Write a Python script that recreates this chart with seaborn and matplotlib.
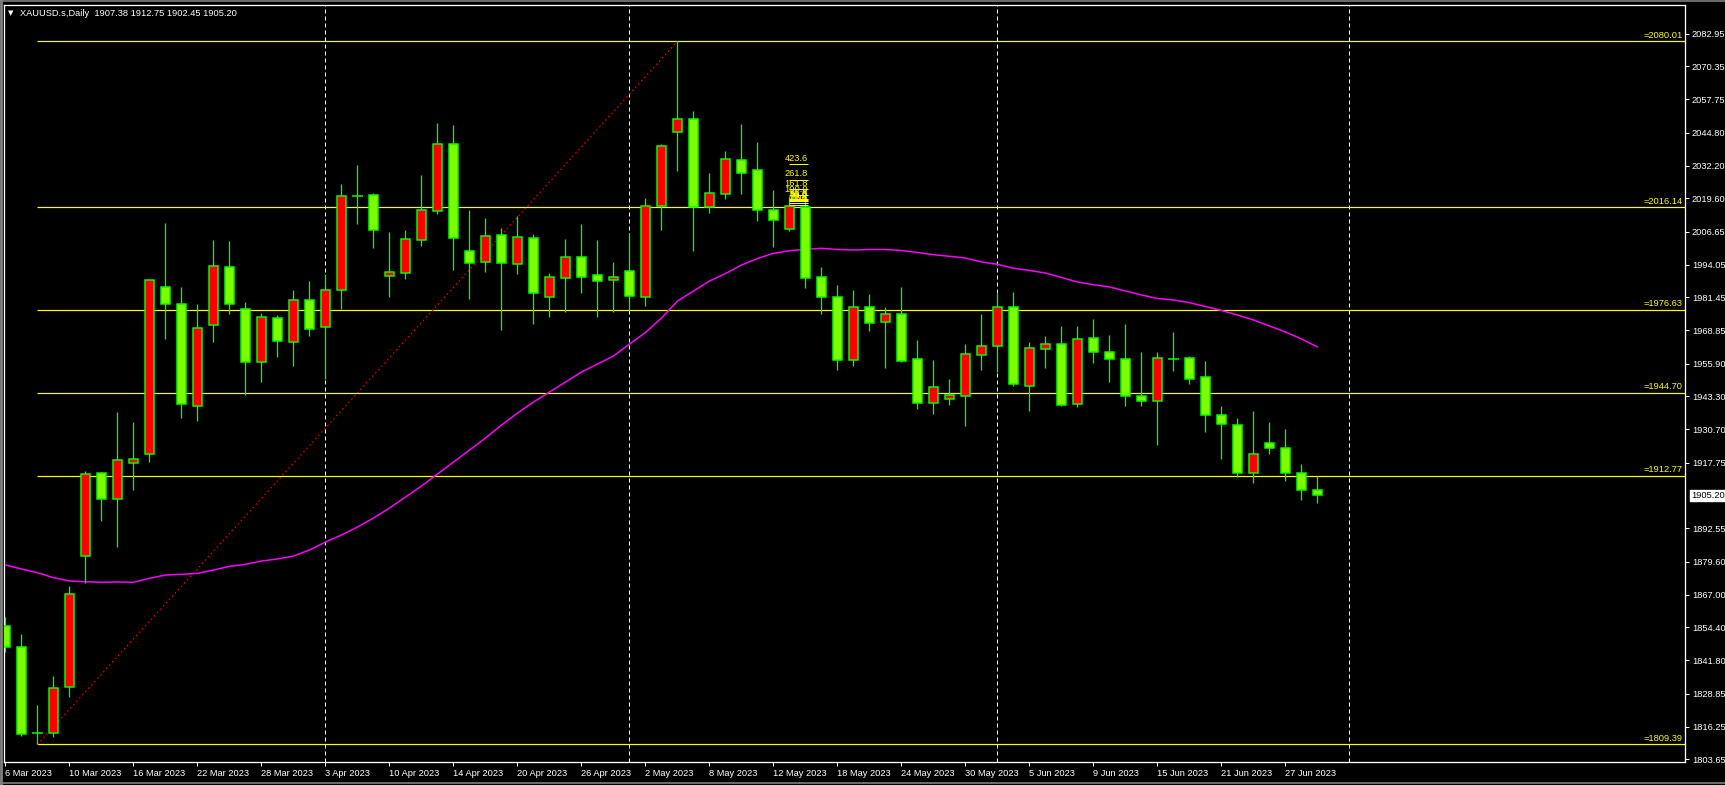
import matplotlib
matplotlib.use("Agg")
import matplotlib.pyplot as plt
import seaborn as sns
import pandas as pd
from matplotlib.lines import Line2D
from matplotlib.transforms import blended_transform_factory

# ---- data ----
dates = ("6 Mar,7 Mar,8 Mar,9 Mar,10 Mar,13 Mar,14 Mar,15 Mar,16 Mar,17 Mar,20 Mar,21 Mar,22 Mar,"
         "23 Mar,24 Mar,27 Mar,28 Mar,29 Mar,30 Mar,31 Mar,3 Apr,4 Apr,5 Apr,6 Apr,10 Apr,11 Apr,"
         "12 Apr,13 Apr,14 Apr,17 Apr,18 Apr,19 Apr,20 Apr,21 Apr,24 Apr,25 Apr,26 Apr,27 Apr,28 Apr,"
         "1 May,2 May,3 May,4 May,5 May,8 May,9 May,10 May,11 May,12 May,15 May,16 May,17 May,18 May,"
         "19 May,22 May,23 May,24 May,25 May,26 May,29 May,30 May,31 May,1 Jun,2 Jun,5 Jun,6 Jun,"
         "7 Jun,8 Jun,9 Jun,12 Jun,13 Jun,14 Jun,15 Jun,16 Jun,19 Jun,20 Jun,21 Jun,22 Jun,23 Jun,"
         "26 Jun,27 Jun,28 Jun,29 Jun").split(",")

opens = [1854.96, 1846.76, 1813.66, 1813.66, 1831.36, 1881.79, 1913.73, 1903.73, 1917.81, 1921.05,
         1985.32, 1978.78, 1939.52, 1970.70, 1993.02, 1976.86, 1956.46, 1973.51, 1964.16, 1980.32,
         1970.16, 1984.17, 2020.35, 2020.74, 1989.79, 1990.94, 2003.41, 2014.58, 2040.37, 1999.18,
         1994.95, 2005.34, 1994.18, 2004.18, 1981.48, 1988.79, 1996.87, 1989.94, 1988.02, 1991.48,
         1981.71, 2016.73, 2045.21, 2049.99, 2016.23, 2021.12, 2034.21, 2030.36, 2014.96, 2007.65,
         2016.12, 1989.17, 1981.48, 1957.34, 1977.63, 1971.85, 1974.93, 1957.61, 1940.68, 1942.22,
         1943.37, 1959.15, 1962.62, 1977.63, 1947.22, 1961.46, 1963.39, 1940.29, 1965.69, 1960.31,
         1957.61, 1943.37, 1941.45, 1957.61, 1958.00, 1950.68, 1936.06, 1932.21, 1913.96, 1925.28,
         1923.36, 1913.73, 1907.38]
highs = [1858.54, 1851.88, 1824.55, 1835.71, 1870.35, 1914.62, 1914.23, 1937.44, 1933.48, 1988.51,
         2010.07, 1985.44, 1978.90, 2003.53, 2003.15, 1979.67, 1975.43, 1974.67, 1984.29, 1987.75,
         1990.44, 2025.08, 2032.40, 2021.50, 2006.61, 2007.38, 2028.55, 2048.56, 2047.79, 2014.96,
         2012.00, 2008.15, 2012.65, 2005.84, 1990.83, 2003.92, 2009.69, 2003.53, 1995.06, 2006.34,
         2019.58, 2040.37, 2080.01, 2053.18, 2029.20, 2037.79, 2048.18, 2041.25, 2022.77, 2020.50,
         2020.20, 1993.02, 1986.09, 1984.29, 1982.75, 1977.74, 1985.44, 1965.04, 1957.34, 1950.03,
         1963.50, 1975.05, 1983.25, 1983.52, 1964.27, 1966.46, 1970.43, 1970.43, 1973.12, 1966.97,
         1971.20, 1960.42, 1960.30, 1968.00, 1958.77, 1956.96, 1939.64, 1934.90, 1937.71, 1933.48,
         1930.78, 1917.31, 1912.75]
lows = [1845.07, 1812.74, 1809.39, 1812.12, 1827.75, 1871.39, 1895.49, 1885.48, 1907.42, 1918.20,
        1965.54, 1935.13, 1933.98, 1964.39, 1975.16, 1943.99, 1948.99, 1958.61, 1955.15, 1966.69,
        1950.00, 1976.86, 2009.81, 2000.57, 1981.71, 1988.63, 2001.34, 2013.65, 1992.10, 1980.94,
        1991.33, 1969.01, 1990.56, 1971.31, 1974.01, 1975.82, 1983.25, 1974.01, 1975.93, 1976.50,
        1978.13, 2007.38, 2030.20, 1999.41, 2014.04, 2019.43, 2021.35, 2010.96, 2000.95, 2006.99,
        1985.17, 1974.93, 1953.49, 1955.00, 1968.62, 1954.38, 1956.70, 1938.60, 1936.67, 1940.14,
        1932.05, 1953.61, 1952.84, 1947.45, 1937.83, 1954.38, 1939.50, 1939.37, 1956.30, 1948.99,
        1939.75, 1939.75, 1924.74, 1953.22, 1947.99, 1929.74, 1919.12, 1912.42, 1910.12, 1921.28,
        1910.89, 1903.46, 1902.45]
closes = [1846.76, 1813.27, 1813.66, 1830.98, 1867.16, 1913.35, 1903.73, 1918.74, 1919.12, 1988.13,
          1978.78, 1940.29, 1969.54, 1993.41, 1978.78, 1956.46, 1973.89, 1964.54, 1980.44, 1969.39,
          1984.17, 2020.35, 2020.35, 2007.49, 1991.10, 2003.80, 2014.96, 2040.37, 2004.18, 1994.79,
          2004.95, 1994.56, 2004.68, 1983.01, 1989.17, 1996.87, 1989.17, 1987.63, 1989.41, 1982.09,
          2016.50, 2039.60, 2049.99, 2016.35, 2021.51, 2034.59, 2029.43, 2014.96, 2011.11, 2016.50,
          1988.79, 1981.71, 1957.46, 1977.63, 1971.47, 1974.93, 1957.07, 1940.68, 1946.83, 1943.76,
          1959.54, 1962.62, 1977.63, 1947.99, 1961.85, 1963.39, 1939.91, 1965.31, 1960.53, 1957.61,
          1943.37, 1941.45, 1958.00, 1957.61, 1949.91, 1936.06, 1932.59, 1913.73, 1921.05, 1923.36,
          1913.73, 1907.50, 1905.20]
moving_avg = [1878.44, 1876.90, 1875.47, 1873.55, 1872.28, 1872.01, 1871.78, 1871.90, 1871.78, 1873.32,
              1874.59, 1874.86, 1875.24, 1876.51, 1877.94, 1878.71, 1879.98, 1880.75, 1881.90, 1884.21,
              1887.29, 1889.99, 1893.06, 1896.53, 1900.38, 1904.61, 1908.84, 1913.46, 1918.08, 1922.70,
              1927.32, 1932.32, 1936.94, 1941.18, 1945.02, 1948.87, 1952.72, 1955.80, 1958.88, 1963.50,
              1967.93, 1973.51, 1980.05, 1983.90, 1987.75, 1990.64, 1993.91, 1996.41, 1998.41, 1999.41,
              1999.95, 2000.34, 1999.87, 1999.68, 1999.87, 1999.87, 1999.49, 1998.72, 1997.87, 1997.26,
              1996.60, 1995.06, 1994.18, 1992.64, 1991.79, 1990.83, 1989.10, 1987.36, 1986.33, 1985.44,
              1983.90, 1982.36, 1981.01, 1980.44, 1979.40, 1977.93, 1976.39, 1974.66, 1972.74, 1970.43,
              1968.12, 1965.42, 1962.35]

fib_levels = [2080.01, 2016.14, 1976.63, 1944.70, 1912.77, 1809.39]
fib_start = "8 Mar"
fib_end = "4 May"
ext_labels = ["423.6", "261.8", "161.8", "100.0", "61.8", "50.0", "38.2", "23.6", "0.0"]
ext_values = [2032.80, 2026.77, 2023.04, 2020.73, 2019.31, 2018.87, 2018.42, 2017.88, 2017.00]
ext_bar = "15 May"

price_ticks = [2082.95, 2070.35, 2057.75, 2044.80, 2032.20, 2019.60, 2006.65, 1994.05, 1981.45,
               1968.85, 1955.90, 1943.30, 1930.70, 1917.75, 1892.55, 1879.60, 1867.00, 1854.40,
               1841.80, 1828.85, 1816.25, 1803.65]
symbol = "XAUUSD.s,Daily"
next_month_bar = 84   # 3 Jul, first bar of July (not yet formed)

df = pd.DataFrame({"date": dates, "open": opens, "high": highs, "low": lows,
                   "close": closes, "ma": moving_avg})
df["bar"] = range(len(df))

BG = "black"
LIME = "#7CFC00"
EDGE = "#00FF00"
RED = "#FF0000"
YELLOW = "#FFFF00"
MAGENTA = "#FF00FF"
PX = 0.72  # one pixel in points at dpi 100

sns.set_style("dark", {"axes.facecolor": BG, "figure.facecolor": BG})
plt.rcParams["font.family"] = ["Liberation Sans", "DejaVu Sans"]
FS = 6.7

W, H = 1725, 785
fig = plt.figure(figsize=(W / 100, H / 100), dpi=100)
left, right, top, bottom = 4.3, 1685, 4.7, 761.7
ax = fig.add_axes([left / W, 1 - bottom / H, (right - left) / W, (bottom - top) / H])
ax.set_facecolor(BG)
ax.grid(False)

bar_of = {d: i for i, d in enumerate(dates)}

# month separators
month = df["date"].str.split(" ").str[1]
sep_bars = list(df["bar"][month != month.shift()].iloc[1:]) + [next_month_bar]
for b in sep_bars:
    ax.axvline(b, color="white", lw=PX, ls=(0, (4, 3)), zorder=1)

# fibonacci retracement levels
x0 = bar_of[fib_start]
for lv in fib_levels:
    ax.hlines(lv, x0, 200, color=YELLOW, lw=PX * 1.2, zorder=2)
    ax.annotate(f"={lv:.2f}", xy=(1, lv), xycoords=("axes fraction", "data"),
                xytext=(-1.5, 1.2), textcoords="offset points", ha="right", va="bottom",
                color=YELLOW, fontsize=FS, zorder=6)
ax.plot([x0, bar_of[fib_end]], [fib_levels[-1], fib_levels[0]], color=RED,
        lw=PX * 1.2, ls=(0, (1.2, 2.5)), zorder=2)

# moving average
sns.lineplot(x=df["bar"], y=df["ma"], ax=ax, color=MAGENTA, lw=PX * 1.5, zorder=3)

# candles
up = df["close"] > df["open"]
down = df["close"] < df["open"]
flat = df["close"] == df["open"]
ax.vlines(df["bar"], df["low"], df["high"], color=EDGE, lw=PX * 1.3, zorder=4)
bw = 0.56
ax.bar(df["bar"][up], (df["close"] - df["open"])[up], bottom=df["open"][up], width=bw,
       color=RED, edgecolor=EDGE, lw=PX * 1.5, zorder=5)
ax.bar(df["bar"][down], (df["open"] - df["close"])[down], bottom=df["close"][down], width=bw,
       color=LIME, edgecolor=EDGE, lw=PX * 1.5, zorder=5)
ax.hlines(df["open"][flat], df["bar"][flat] - 0.33, df["bar"][flat] + 0.33, color=EDGE,
          lw=PX * 1.5, zorder=5)

# fibonacci expansion object (cramped labels)
xe = bar_of[ext_bar]
for lab, v in zip(ext_labels, ext_values):
    ax.hlines(v, xe - 0.03, xe + 1.15, color=YELLOW, lw=PX, zorder=6)
    ax.annotate(lab, xy=(xe + 1.15, v), xytext=(0, 1), textcoords="offset points",
                ha="right", va="bottom", color=YELLOW, fontsize=FS, zorder=6)

# axes limits and spines
ax.set_xlim(-0.075, 104.97)
ax.set_ylim(1802.73, 2094.1)
for s in ax.spines.values():
    s.set_color("white")
    s.set_linewidth(PX * 1.3)
    s.set_visible(True)

# price axis on the right
ax.yaxis.tick_right()
ax.set_yticks(price_ticks)
ax.set_yticklabels([f"{t:.2f}" for t in price_ticks])
ax.tick_params(axis="y", colors="white", labelcolor="white", labelsize=FS, length=3,
               width=PX, pad=2, direction="out", left=False, right=True)
last = closes[-1]
ax.annotate(f"{last:.2f}", xy=(1, last), xycoords=("axes fraction", "data"),
            xytext=(4.2, 0), textcoords="offset points", ha="left", va="center",
            color="black", fontsize=FS,
            bbox=dict(boxstyle="square,pad=0.12", fc="white", ec="white"), annotation_clip=False)

# date axis
tick_bars = list(df["bar"][::4])
ax.set_xticks(tick_bars)
ax.set_xticklabels([d + " 2023" for d in df["date"][::4]])
for t in ax.get_xticklabels():
    t.set_horizontalalignment("left")
ax.tick_params(axis="x", colors="white", labelcolor="white", labelsize=FS, length=3,
               width=PX, pad=2, direction="out", bottom=True)
ax.set_xlabel("")
ax.set_ylabel("")

# header
fig.text(8 / W, 1 - 13.5 / H, "\u25bc", color="white", fontsize=5, ha="left", va="center",
         family=["DejaVu Sans"])
fig.text(20 / W, 1 - 13 / H, f"{symbol}  {opens[-1]:.2f} {highs[-1]:.2f} {lows[-1]:.2f} {closes[-1]:.2f}",
         color="white", fontsize=FS, ha="left", va="center")

# window frame
fig.add_artist(Line2D([0, 1], [1 - 0.8 / H, 1 - 0.8 / H], color="#808080", lw=1.2))
fig.add_artist(Line2D([1.2 / W, 1.2 / W], [0, 1], color="#808080", lw=2))
fig.add_artist(Line2D([0, 1], [1 - 783 / H, 1 - 783 / H], color="#808080", lw=1.2))

fig.savefig("out.png", dpi=100, facecolor=BG)
